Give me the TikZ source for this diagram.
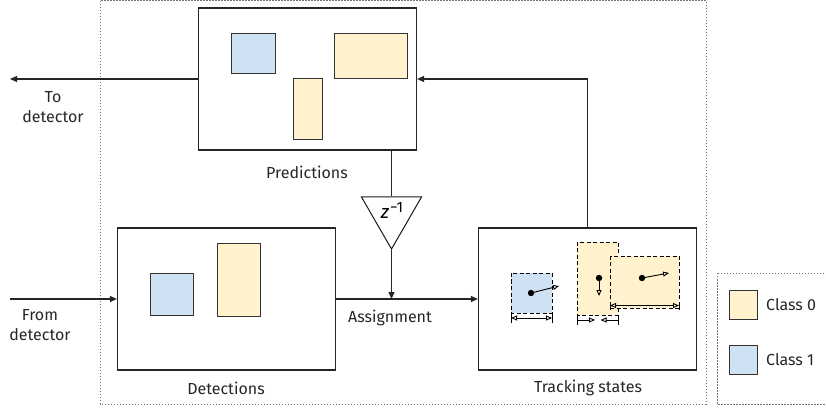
\documentclass[tikz,border=0pt]{standalone}
\usepackage{fontspec}
\setmainfont{Fira Sans}
\usetikzlibrary{arrows.meta,shapes.geometric}
\definecolor{cyel}{HTML}{FFF2CC}
\definecolor{cblue}{HTML}{CFE2F3}
\tikzset{wtip/.tip={Triangle[open,length=6pt,width=5pt]}}
\begin{document}
\begin{tikzpicture}[x=1pt,y=-1pt,
  font=\fontsize{16}{20}\selectfont,
  box/.style={draw=black!85, line width=1.2pt, minimum width=218pt, minimum height=142pt, inner sep=0pt},
  lbl/.style={align=center, inner sep=0pt, text=black!85},
  flow/.style={line width=1.1pt, draw=black!85, -{Triangle[length=7pt,width=6pt]}},
  wire/.style={line width=1.1pt, draw=black!85},
  tri/.style={draw=black!90, line width=1pt, regular polygon, regular polygon sides=3, shape border rotate=180, minimum size=69.4pt, inner sep=0pt},
  pbox/.style={draw=black!80, line width=0.9pt},
  tbox/.style={draw=black, line width=0.9pt, dash pattern=on 4pt off 2.5pt},
  vel/.style={line width=0.9pt, -{wtip}},
  wdt/.style={line width=0.9pt},
  dotted box/.style={draw=black!55, line width=0.8pt, dash pattern=on 1.5pt off 1.5pt},
]
\useasboundingbox (0,0) rectangle (826,411);
\clip (0,0) rectangle (826,411);

% outer frames
\draw[dotted box] (100,0.7) rectangle (706,404);
\draw[dotted box] (717,273) rectangle (830,404);

% main boxes
\node[box] (pred) at (307.5,79) {};
\node[box] (det) at (226.5,299) {};
\node[box] (track) at (587.5,299) {};
\node[tri] (tri) at (391.5,214.3) {};
\node[lbl, text=black] (zl) at (392,210.5) {{\fontsize{19}{20}\selectfont\textit{z}}\hspace{1pt}\raisebox{6pt}{\fontsize{15}{16}\selectfont −1}};

% predictions contents
\filldraw[pbox, fill=cblue] (231,33) rectangle (275,73);
\filldraw[pbox, fill=cyel] (334,33) rectangle (407,78);
\filldraw[pbox, fill=cyel] (293,78) rectangle (322,139);

% detections contents
\filldraw[pbox, fill=cblue] (150,273) rectangle (193,315);
\filldraw[pbox, fill=cyel] (217,243) rectangle (260,316);

% tracking states contents
% blue track
\filldraw[tbox, fill=cblue] (511,273) rectangle (552,313);
\coordinate (b1) at (531,293); \coordinate (b2) at (559,286);
\fill (b1) circle (3.2pt);
\draw[vel] (b1) -- (b2);
\coordinate (bw1) at (511,318); \coordinate (bw2) at (552,318);
\draw[wdt] ([yshift=-5pt]bw1) -- ([yshift=4pt]bw1);
\draw[wdt] ([yshift=-5pt]bw2) -- ([yshift=4pt]bw2);
\draw[wdt, {wtip}-{wtip}] (bw1) -- (bw2);

% tall yellow track
\filldraw[tbox, fill=cyel] (577,242) rectangle (618,315);
\coordinate (t1) at (599,278); \coordinate (t2) at (599,296);
\fill (t1) circle (3.2pt);
\draw[vel] (t1) -- (t2);
\coordinate (tw1) at (577,320); \coordinate (tw2) at (618,320);
\coordinate (tm1) at (595,320); \coordinate (tm2) at (600.5,320);
\draw[wdt] ([yshift=-5pt]tw1) -- ([yshift=4pt]tw1);
\draw[wdt] ([yshift=-5pt]tw2) -- ([yshift=4pt]tw2);
\draw[wdt, -{wtip}] (tw1) -- (tm1);
\draw[wdt, -{wtip}] (tw2) -- (tm2);

% wide yellow track
\filldraw[tbox, fill=cyel] (610,256) rectangle (679,308);
\coordinate (w1) at (642,278); \coordinate (w2) at (669,273);
\fill (w1) circle (3.2pt);
\draw[vel] (w1) -- (w2);
\coordinate (ww1) at (610,305.5); \coordinate (ww2) at (679,305.5);
\draw[wdt] ([yshift=-4.5pt]ww1) -- ([yshift=4pt]ww1);
\draw[wdt] ([yshift=-4.5pt]ww2) -- ([yshift=4pt]ww2);
\draw[wdt, {wtip}-{wtip}] (ww1) -- (ww2);

% connectors
\coordinate (todet) at (10,79);
\coordinate (fromdet) at (10,299);
\coordinate (asg) at (391.5,299);
\draw[flow] (pred.west) -- (todet);
\draw[flow] (fromdet) -- (det.west);
\draw[wire] (pred.south -| tri.center) -- (tri);
\draw[flow] (tri) -- (asg);
\draw[flow] (det.east) -- (track.west);
\draw[flow] (track.north) |- (pred.east);

% labels
\node[lbl] (lpred) at (307,172) {Predictions};
\node[lbl] (ldet) at (226,388) {Detections};
\node[lbl] (ltrack) at (588,388) {Tracking states};
\node[lbl] (lasg) at (390,318) {Assignment};
\node[lbl] (lto) at (53,107) {To\\detector};
\node[lbl] (lfrom) at (40,325) {From\\detector};

% legend
\filldraw[pbox, fill=cyel] (729,290) rectangle (757,319);
\filldraw[pbox, fill=cblue] (729,345) rectangle (757,374);
\node[lbl, anchor=west] (lc0) at (766,305) {Class 0};
\node[lbl, anchor=west] (lc1) at (766,360) {Class 1};
\end{tikzpicture}
\end{document}
